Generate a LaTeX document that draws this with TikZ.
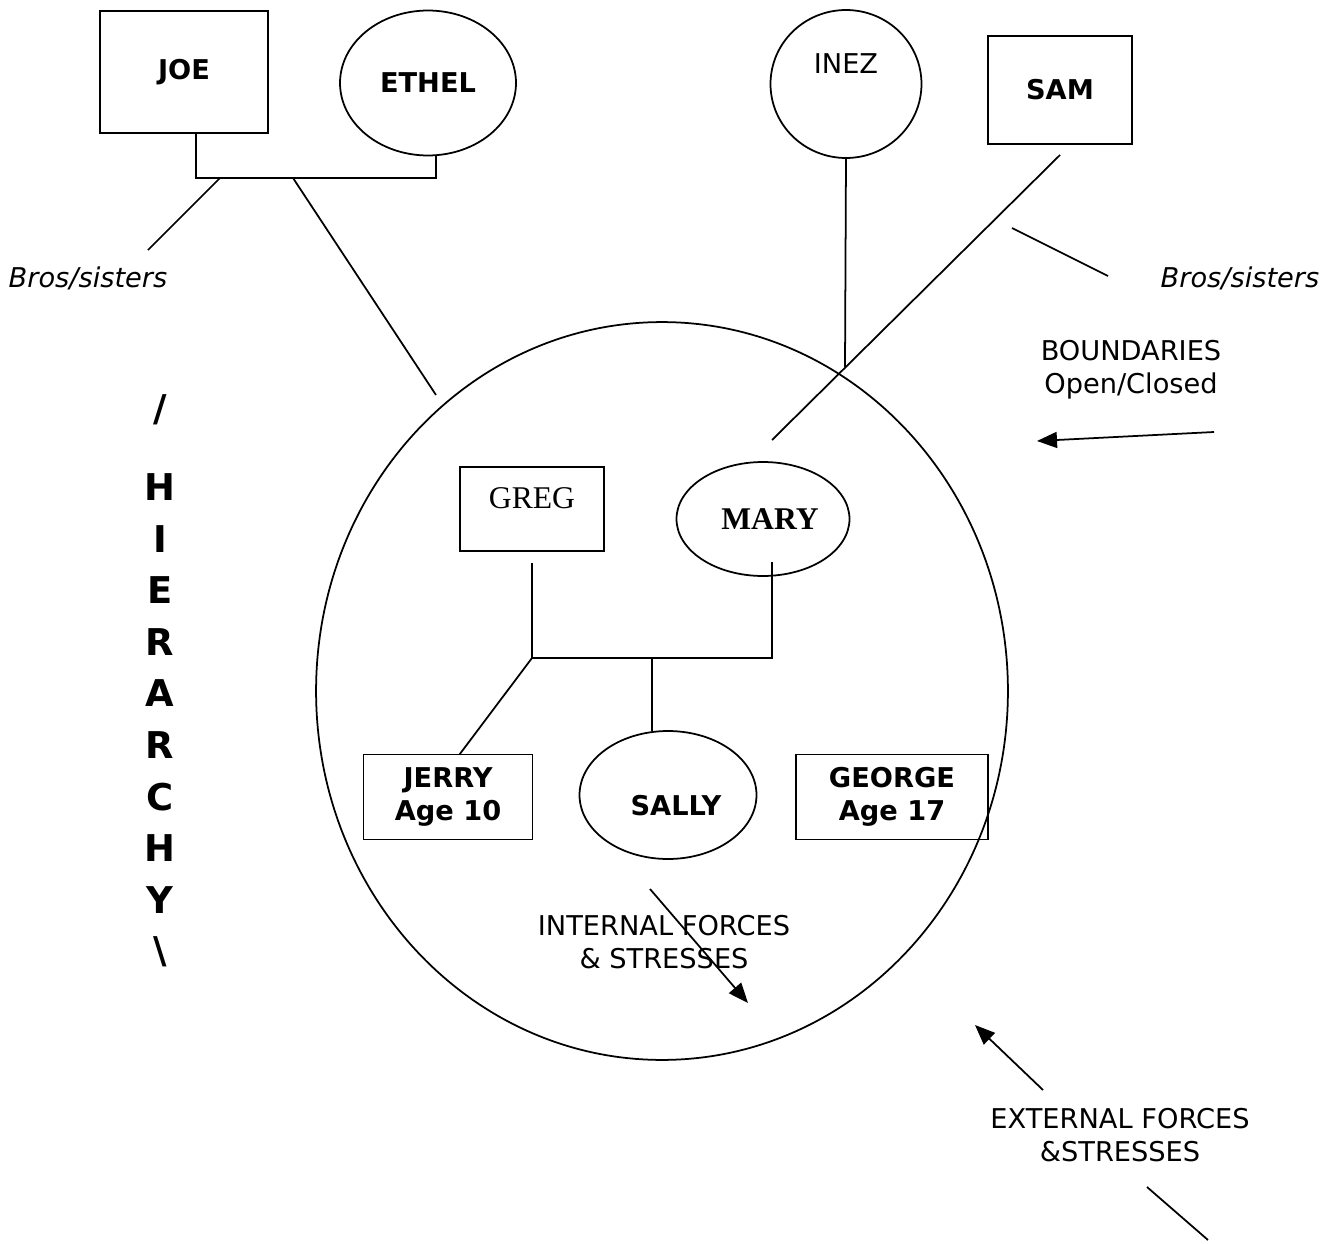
\documentclass[tikz,border=0pt]{standalone}
\usepackage{fontspec}
\setmainfont{DejaVu Sans}
\newfontfamily\serifnames{Liberation Serif}
\usetikzlibrary{shapes.geometric,arrows.meta}

\tikzset{
  kin/.style={line width=1pt},
  male/.style={draw,line width=1pt,rectangle,inner sep=0pt,outer sep=0pt,font=\fontsize{15.5}{19}\selectfont\bfseries},
  female/.style={draw,line width=1pt,ellipse,inner sep=0pt,outer sep=0pt,font=\fontsize{15.5}{19}\selectfont\bfseries},
  note/.style={font=\fontsize{15.5}{19}\selectfont,align=center},
  force/.style={kin,-{Triangle[length=0.4cm,width=0.32cm]}},
  rank/.style={font=\fontsize{21}{24}\selectfont\bfseries}
}

\begin{document}
\begin{tikzpicture}[x=0.02cm,y=-0.02cm]
    \useasboundingbox (0,0) rectangle (1339,1244);
    % grandparents
    \node[male,minimum width=3.36cm,minimum height=2.44cm] (joe) at (184,72) {JOE};
    \node[female,minimum width=3.52cm,minimum height=2.9cm] (ethel) at (428,83) {ETHEL};
    \node[female,minimum width=3.02cm,minimum height=2.96cm,
          label={[yshift=0.4cm,font=\fontsize{15.5}{19}\selectfont]center:INEZ}] (inez) at (846,84) {};
    \node[male,minimum width=2.88cm,minimum height=2.16cm] (sam) at (1060,90) {SAM};
    % family boundary
    \node[draw,line width=1pt,ellipse,inner sep=0pt,minimum width=13.84cm,minimum height=14.76cm] (family) at (662,691) {};
    % nuclear family
    \node[male,minimum width=2.88cm,minimum height=1.68cm,
          label={[yshift=0.22cm,font=\fontsize{18}{21}\selectfont\serifnames]center:GREG}] (greg) at (532,509) {};
    \node[female,minimum width=3.46cm,minimum height=2.28cm,
          label={[xshift=0.14cm,font=\fontsize{18}{21}\selectfont\serifnames\bfseries]center:MARY}] (mary) at (763,519) {};
    \node[male,minimum width=3.38cm,minimum height=1.7cm,align=center] (jerry) at (448,797) {JERRY\\ Age 10};
    \node[female,minimum width=3.54cm,minimum height=2.56cm,
          label={[xshift=0.16cm,yshift=-0.22cm,font=\fontsize{15.5}{19}\selectfont\bfseries]center:SALLY}] (sally) at (668,795) {};
    \node[male,minimum width=3.84cm,minimum height=1.7cm,align=center] (george) at (892,797) {GEORGE\\Age 17};

    % junctions and free ends
    \coordinate (barJE) at (300,178);
    \coordinate (barL) at (220,178);
    \coordinate (barR) at (293,178);
    \coordinate (brosL) at (148,250);
    \coordinate (famtop) at (436,395);
    \coordinate (cross) at (845,367);
    \coordinate (samfoot) at (1060,155);
    \coordinate (marytop) at (772,440);
    \coordinate (brosRa) at (1012,228);
    \coordinate (brosRb) at (1108,276);
    \coordinate (kids) at (652,658);

    \draw[kin] ([xshift=0.24cm]joe.south) |- (barJE) -| ([xshift=0.16cm]ethel.south);
    \draw[kin] (barL) -- (brosL);
    \draw[kin] (barR) -- (famtop);
    \draw[kin] (inez.south) -- (cross);
    \draw[kin] (samfoot) -- (marytop);
    \draw[kin] (brosRa) -- (brosRb);
    \draw[kin] ([yshift=-0.24cm]greg.south) |- (kids) -| ([xshift=0.18cm,yshift=0.28cm]mary.south);
    \draw[kin] (kids) -- (kids |- sally.north);
    \draw[kin] (greg.south |- kids) -- ([xshift=0.23cm]jerry.north);

    % labels
    \node[note,font=\fontsize{15.5}{19}\selectfont\itshape] (brosLtxt) at (88,278) {Bros/sisters};
    \node[note,font=\fontsize{15.5}{19}\selectfont\itshape] (brosRtxt) at (1240,278) {Bros/sisters};
    \node[note] (bound) at (1131,370) {BOUNDARIES\\Open/Closed};
    \node[note] (inner) at (664,942) {INTERNAL FORCES\\\& STRESSES};
    \node[note] (outer) at (1120,1135) {EXTERNAL FORCES\\\&STRESSES};

    % forces
    \coordinate (bndA) at (1214,432);
    \coordinate (bndB) at (1037,441);
    \coordinate (inA) at (650,889);
    \coordinate (inB) at (748,1003);
    \coordinate (exA) at (1043,1090);
    \coordinate (exB) at (975,1025);
    \coordinate (exC) at (1147,1187);
    \coordinate (exD) at (1208,1240);
    \draw[force] (bndA) -- (bndB);
    \draw[force] (inA) -- (inB);
    \draw[force] (exA) -- (exB);
    \draw[kin] (exC) -- (exD);

    % hierarchy
    \node[rank] (hslash) at (160,410) {/};
    \foreach \ch [count=\i] in {H,I,E,R,A,R,C,H,Y,\textbackslash}
        \node[rank] (h\i) at (160,487+51.6*\i-51.6) {\ch};
\end{tikzpicture}
\end{document}
